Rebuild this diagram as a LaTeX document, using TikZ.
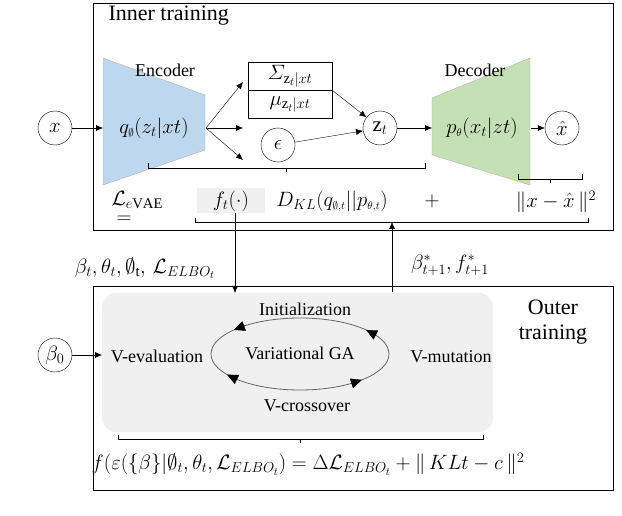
\documentclass[tikz,border=0pt]{standalone}
\usepackage{fontspec}
\setmainfont{Liberation Serif}
\usepackage{amsmath,amssymb}
\usetikzlibrary{arrows.meta,calc}
\definecolor{encb}{HTML}{BDD7EE}
\definecolor{decg}{HTML}{C5E0B4}
\begin{document}
\begin{tikzpicture}[x=1pt,y=-1pt,
  circ/.style={draw,circle,minimum size=34pt,inner sep=0pt,font=\fontsize{21}{22}\selectfont},
  lbl/.style={font=\fontsize{21}{23}\selectfont},
  big/.style={font=\fontsize{22}{25}\selectfont},
  sml/.style={font=\fontsize{18}{20}\selectfont},
  arr/.style={-{Latex[length=7pt,width=6pt]}},
  brk/.style={draw,line width=0.6pt}]
\useasboundingbox (0,0) rectangle (622,516);
% inner box
\draw (93,3) rectangle (613,230);
\node[big,anchor=west] at (105,16) {Inner training};
% encoder
\fill[encb,draw=gray!60] (103,58) -- (205,95) -- (205,150) -- (103,185) -- cycle;
\node[sml] at (165,70) {Encoder};
\node[lbl] (q) at (154,128) {$q_{\scriptscriptstyle\emptyset}(z_t|xt)$};
% decoder
\fill[decg,draw=gray!60] (432,98) -- (530,58) -- (530,185) -- (432,155) -- cycle;
\node[sml] at (475,70) {Decoder};
\node[lbl] (p) at (482,128) {$p_{\scriptscriptstyle\theta}(x_t|zt)$};
% circles
\node[circ] (x) at (55,128) {$x$};
\node[circ] (xh) at (562,128) {$\hat{x}$};
\node[circ] (z) at (380,128) {$\mathrm{z}_t$};
\node[circ] (eps) at (278,145) {$\epsilon$};
\node[draw,lbl,minimum width=84pt,minimum height=28pt,inner sep=0pt] (sig) at (290,76) {$\varSigma_{\mathrm{z}_t|xt}$};
\node[draw,lbl,minimum width=84pt,minimum height=28pt,inner sep=0pt,anchor=north] (mu) at (sig.south) {$\mu_{\mathrm{z}_t|xt}$};
\coordinate (ef) at (206,128);
\draw[arr] (x) -- (103,128);
\draw[arr] (ef) -- (243,82);
\draw[arr] (ef) -- (243,128);
\draw[arr] (ef) -- (243,160);
\draw[arr] (sig.south east) -- (z);
\draw[arr] (eps) -- (z);
\draw[arr] (z) -- (432,128);
\draw[arr] (531,128) -- (xh);
% braces
\draw[brk] (148,163) -- (148,168) -- (425,168) -- (425,163);
\draw[brk] (286,168) -- (286,172);
\draw[brk] (518,174) -- (518,179) -- (582,179) -- (582,174);
\draw[brk] (550,179) -- (550,183);
% loss formula
\node[lbl,anchor=west] at (108,200) {$\mathcal{L}_{e\mathrm{VAE}}$};
\node[lbl] at (124,220) {$=$};
\fill[gray!12] (197,188) rectangle (265,213);
\node[lbl] (ft) at (231,201) {$f_t(\cdot)$};
\node[lbl] at (332,201) {$D_{KL}(q_{\scriptscriptstyle\emptyset,t}||p_{\scriptscriptstyle\theta,t})$};
\node[lbl] at (432,201) {$+$};
\node[lbl] at (556,202) {$\|x-\hat{x}\,\|^2$};
\draw[brk] (195,218) -- (195,222) -- (588,222) -- (588,218);
\coordinate (m) at (392,222);
\coordinate (d1) at (235,213);
\coordinate (d2) at (235,293);
\coordinate (u1) at (392,292);
\draw[arr] (d1) -- (d2);
\draw[arr] (u1) -- (m);
\node[lbl] at (145,268) {$\beta_t,\theta_t,\emptyset_{\mathrm{t}},\,\mathcal{L}_{ELBO_t}$};
\node[lbl] at (450,265) {$\beta^*_{t+1},f^*_{t+1}$};
% outer
\draw (93,286) rectangle (613,490);
\fill[gray!12,rounded corners=14pt] (102,293) rectangle (493,432);
\node[big,align=center] at (553,322) {Outer\\training};
\node[circ] (b0) at (55,355) {$\beta_0$};
\draw[arr] (b0) -- (102,355);
\coordinate (c) at (300,354);
\draw[gray!80!black,line width=0.8pt] (c) ellipse [x radius=89,y radius=36];
\node[sml] at (305,309) {Initialization};
\node[sml] at (157,356) {V-evaluation};
\node[sml] at (300,353) {Variational GA};
\node[sml] at (451,357) {V-mutation};
\node[sml] at (307,406) {V-crossover};
\tikzset{et/.style={-{Triangle[length=11pt,width=10pt]}}}
\draw[et] ($(c)+(-128:89 and 36)$) -- ($(c)+(-138:89 and 36)$);
\draw[et] ($(c)+(-33:89 and 36)$) -- ($(c)+(-42:89 and 36)$);
\draw[et] ($(c)+(136:89 and 36)$) -- ($(c)+(145:89 and 36)$);
\draw[et] ($(c)+(55:89 and 36)$) -- ($(c)+(46:89 and 36)$);
\draw[brk] (118,435) -- (118,439) -- (483,439) -- (483,435);
\draw[brk] (300,439) -- (300,443);
\node[lbl] at (308,464) {$f(\varepsilon(\{\beta\}|\emptyset_t,\theta_t,\mathcal{L}_{ELBO_t})=\Delta\mathcal{L}_{ELBO_t}+\|\,KLt-c\,\|^2$};
\end{tikzpicture}
\end{document}
